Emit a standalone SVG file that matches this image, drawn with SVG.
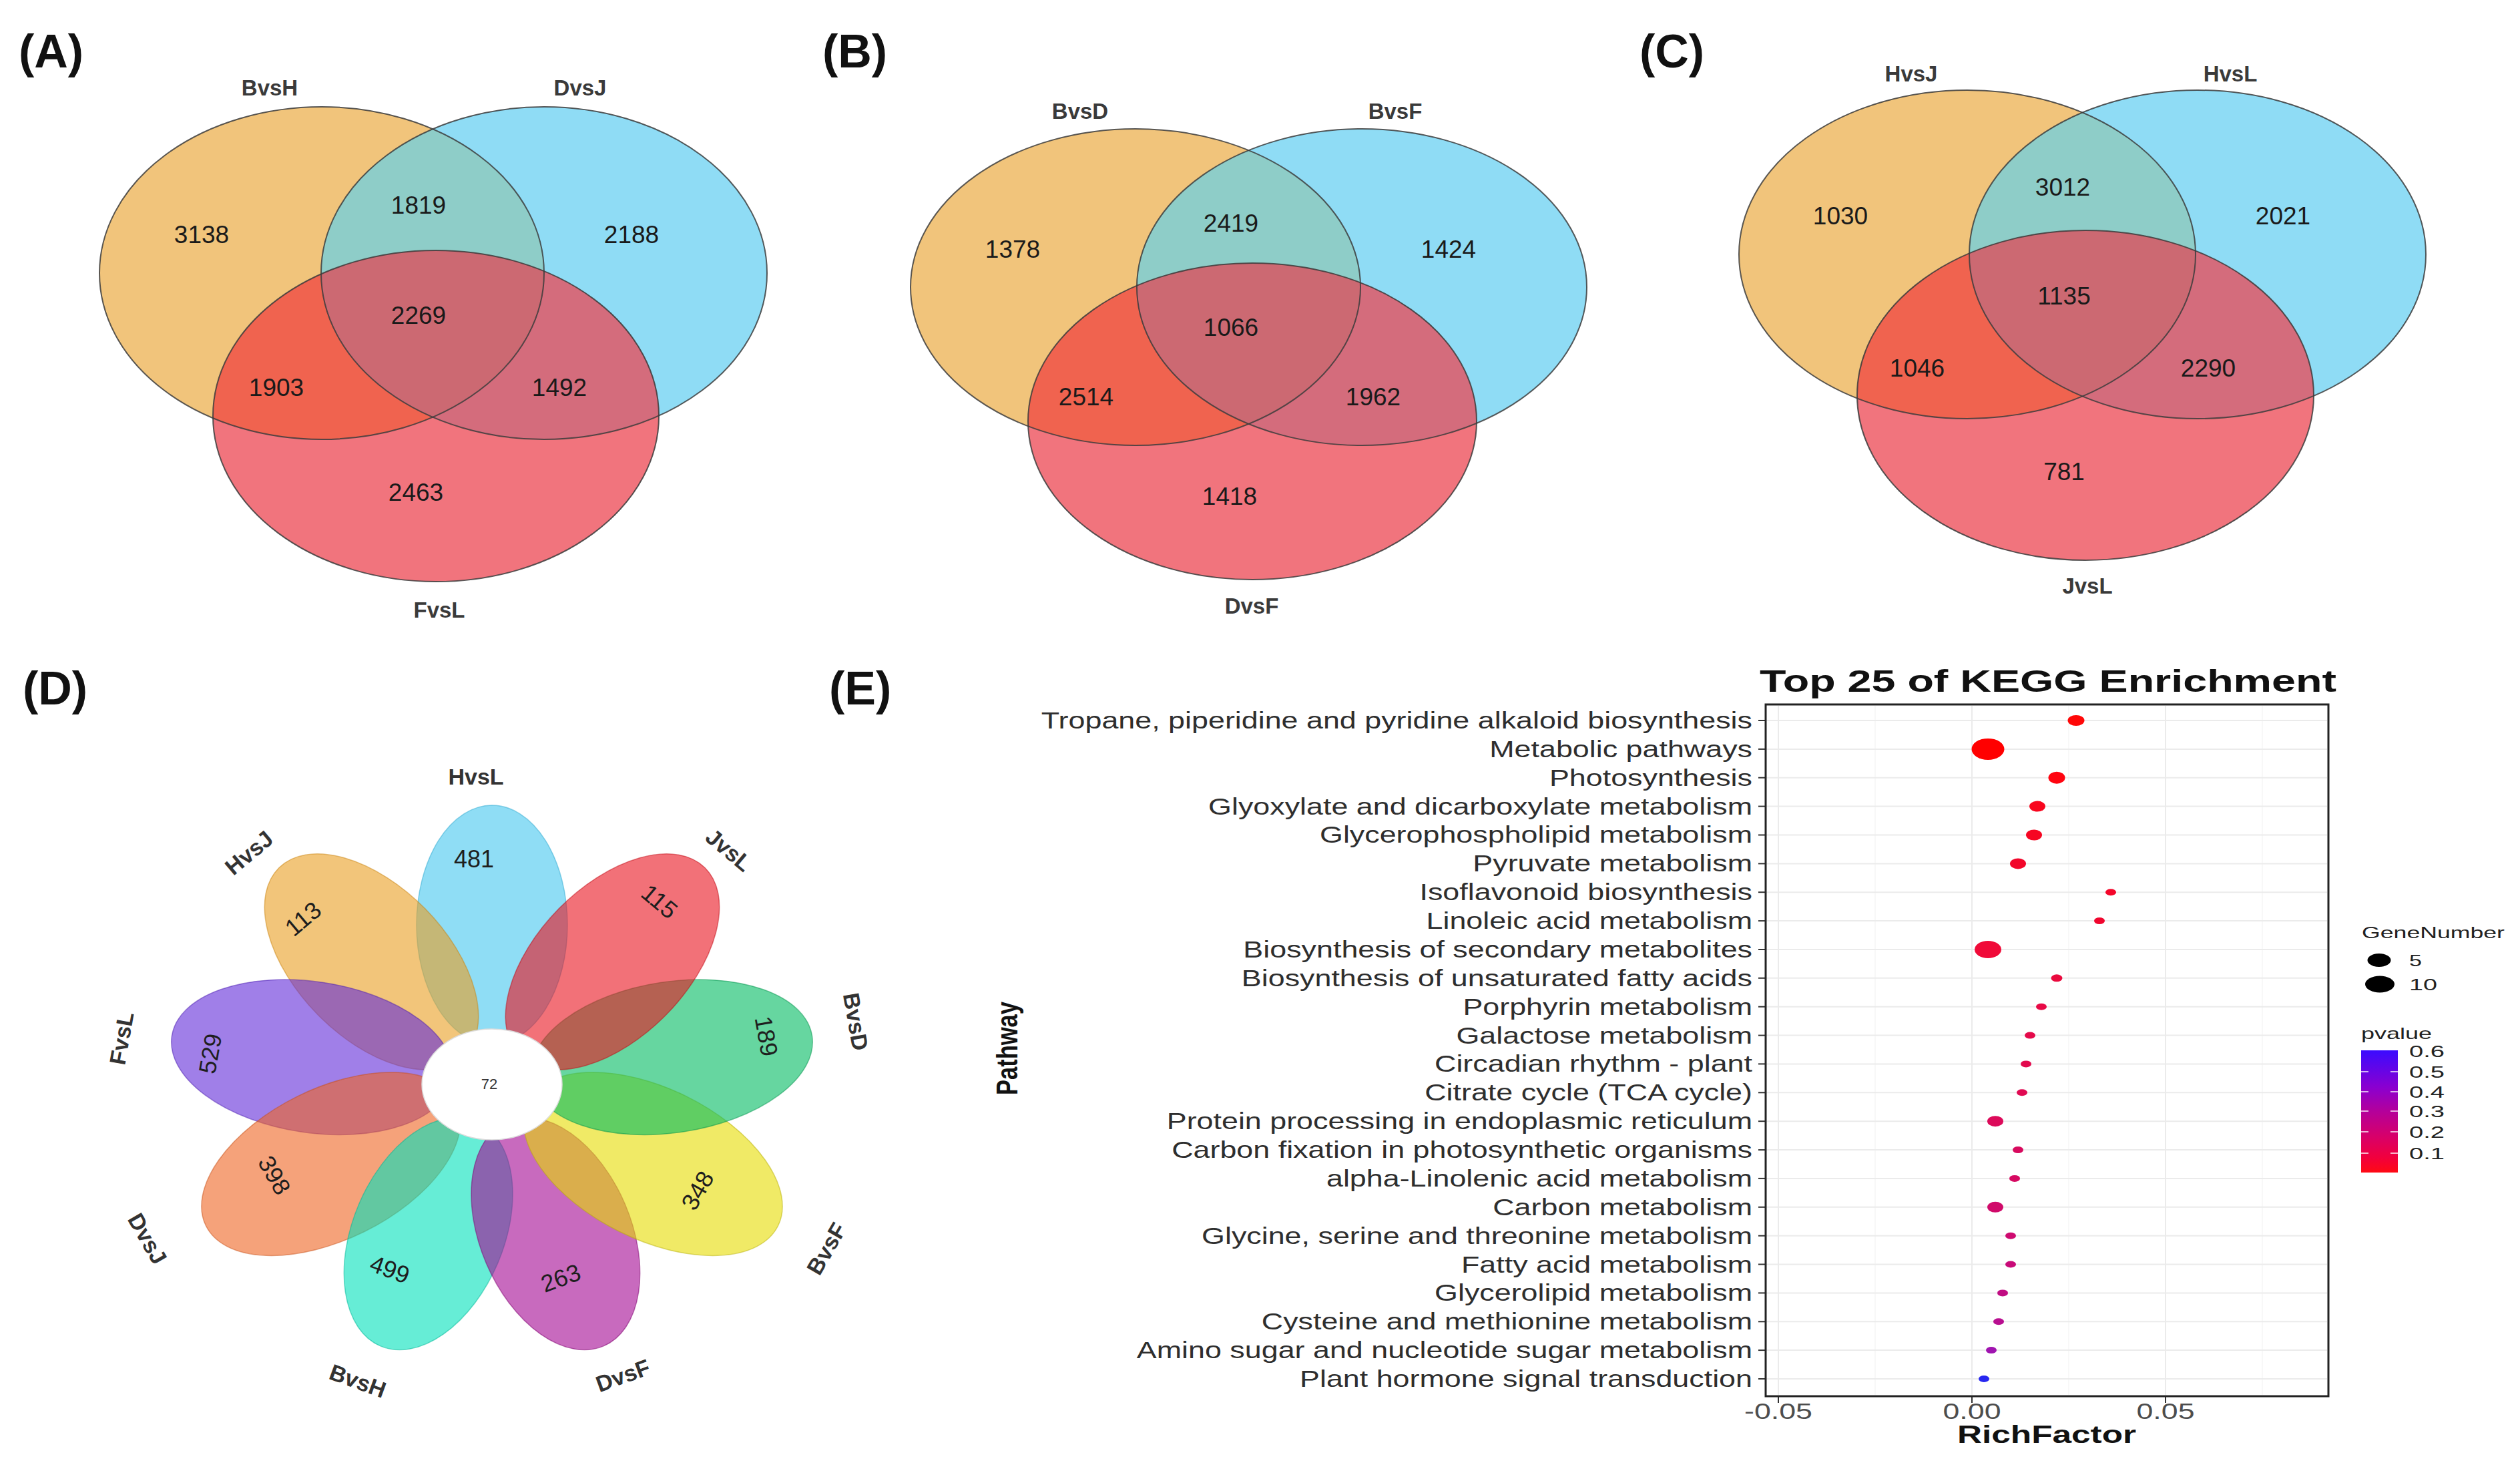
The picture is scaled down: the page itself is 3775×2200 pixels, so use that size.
<svg xmlns="http://www.w3.org/2000/svg" width="3775" height="2200" viewBox="0 0 3775 2200">
<style>
text{font-family:"Liberation Sans",Arial,Helvetica,sans-serif}
.pl{font-size:70px;font-weight:bold;fill:#111}
.vn{font-size:37px;fill:#1a1a1a;text-anchor:middle}
.vl{font-size:33px;font-weight:bold;fill:#3a3a3a;text-anchor:middle}
.O{fill:#F1C47B}.B{fill:#8FDCF5}.R{fill:#F1747D}
.OB{fill:#8ECDC8}.OR{fill:#F0634F}.BR{fill:#D46C7C}.OBR{fill:#CC6972}
.vo{fill:none;stroke:#3c3c3c;stroke-width:2;stroke-opacity:.85}
.pt{fill-opacity:.6;stroke-opacity:.5;stroke-width:1.5}
.fn{font-size:36px;fill:#1e1e1e;text-anchor:middle;dominant-baseline:central}
.fl{font-size:34px;font-weight:bold;fill:#333;text-anchor:middle;dominant-baseline:central}
.rl{font-size:34.5px;fill:#2e2e2e;text-anchor:end}
.hg{stroke:#EBEBEB;stroke-width:2}
.mg{stroke:#F4F4F4;stroke-width:1.2}
.tk{stroke:#333;stroke-width:2}
.ax{font-size:33px;fill:#4D4D4D;text-anchor:middle}
.lg{font-size:24px;fill:#222}
</style>
<defs>
<clipPath id="aO"><ellipse cx="482" cy="409" rx="333" ry="249"/></clipPath>
<clipPath id="aB"><ellipse cx="815" cy="409" rx="334" ry="249"/></clipPath>
<clipPath id="bO"><ellipse cx="1701" cy="430" rx="337" ry="237"/></clipPath>
<clipPath id="bB"><ellipse cx="2040" cy="430" rx="337" ry="237"/></clipPath>
<clipPath id="cO"><ellipse cx="2947" cy="381" rx="342" ry="246"/></clipPath>
<clipPath id="cB"><ellipse cx="3292" cy="381" rx="342" ry="246"/></clipPath>
<linearGradient id="pg" x1="0" y1="0" x2="0" y2="1">
<stop offset="0" stop-color="#3B0BFF"/>
<stop offset="0.3" stop-color="#8A00D0"/>
<stop offset="0.5" stop-color="#B4009A"/>
<stop offset="0.72" stop-color="#DA0066"/>
<stop offset="0.88" stop-color="#F2003C"/>
<stop offset="1" stop-color="#FF0A14"/>
</linearGradient>
</defs>
<rect width="3775" height="2200" fill="#fff"/>

<!-- Panel A -->
<g id="panel-A">
<text class="pl" x="28" y="101">(A)</text>
<g id="A-sets">
<ellipse class="O" cx="482" cy="409" rx="333" ry="249"/>
<ellipse class="B" cx="815" cy="409" rx="334" ry="249"/>
<ellipse class="R" cx="653" cy="623" rx="334" ry="248"/>
<ellipse class="OB" cx="815" cy="409" rx="334" ry="249" clip-path="url(#aO)"/>
<ellipse class="OR" cx="653" cy="623" rx="334" ry="248" clip-path="url(#aO)"/>
<ellipse class="BR" cx="653" cy="623" rx="334" ry="248" clip-path="url(#aB)"/>
<g clip-path="url(#aO)"><ellipse class="OBR" cx="653" cy="623" rx="334" ry="248" clip-path="url(#aB)"/></g>
<ellipse class="vo" cx="482" cy="409" rx="333" ry="249"/>
<ellipse class="vo" cx="815" cy="409" rx="334" ry="249"/>
<ellipse class="vo" cx="653" cy="623" rx="334" ry="248"/>
</g>
<text class="vl" x="404" y="143">BvsH</text>
<text class="vl" x="869" y="143">DvsJ</text>
<text class="vl" x="658" y="925">FvsL</text>
<text class="vn" x="302" y="364">3138</text>
<text class="vn" x="627" y="320">1819</text>
<text class="vn" x="946" y="364">2188</text>
<text class="vn" x="627" y="485">2269</text>
<text class="vn" x="414" y="593">1903</text>
<text class="vn" x="838" y="593">1492</text>
<text class="vn" x="623" y="750">2463</text>
</g>

<!-- Panel B -->
<g id="panel-B">
<text class="pl" x="1232" y="101">(B)</text>
<g id="B-sets">
<ellipse class="O" cx="1701" cy="430" rx="337" ry="237"/>
<ellipse class="B" cx="2040" cy="430" rx="337" ry="237"/>
<ellipse class="R" cx="1876" cy="631" rx="336" ry="237"/>
<ellipse class="OB" cx="2040" cy="430" rx="337" ry="237" clip-path="url(#bO)"/>
<ellipse class="OR" cx="1876" cy="631" rx="336" ry="237" clip-path="url(#bO)"/>
<ellipse class="BR" cx="1876" cy="631" rx="336" ry="237" clip-path="url(#bB)"/>
<g clip-path="url(#bO)"><ellipse class="OBR" cx="1876" cy="631" rx="336" ry="237" clip-path="url(#bB)"/></g>
<ellipse class="vo" cx="1701" cy="430" rx="337" ry="237"/>
<ellipse class="vo" cx="2040" cy="430" rx="337" ry="237"/>
<ellipse class="vo" cx="1876" cy="631" rx="336" ry="237"/>
</g>
<text class="vl" x="1618" y="178">BvsD</text>
<text class="vl" x="2090" y="178">BvsF</text>
<text class="vl" x="1875" y="919">DvsF</text>
<text class="vn" x="1517" y="386">1378</text>
<text class="vn" x="1844" y="347">2419</text>
<text class="vn" x="2170" y="386">1424</text>
<text class="vn" x="1844" y="503">1066</text>
<text class="vn" x="1627" y="607">2514</text>
<text class="vn" x="2057" y="607">1962</text>
<text class="vn" x="1842" y="756">1418</text>
</g>

<!-- Panel C -->
<g id="panel-C">
<text class="pl" x="2456" y="101">(C)</text>
<g id="C-sets">
<ellipse class="O" cx="2947" cy="381" rx="342" ry="246"/>
<ellipse class="B" cx="3292" cy="381" rx="342" ry="246"/>
<ellipse class="R" cx="3124" cy="592" rx="342" ry="247"/>
<ellipse class="OB" cx="3292" cy="381" rx="342" ry="246" clip-path="url(#cO)"/>
<ellipse class="OR" cx="3124" cy="592" rx="342" ry="247" clip-path="url(#cO)"/>
<ellipse class="BR" cx="3124" cy="592" rx="342" ry="247" clip-path="url(#cB)"/>
<g clip-path="url(#cO)"><ellipse class="OBR" cx="3124" cy="592" rx="342" ry="247" clip-path="url(#cB)"/></g>
<ellipse class="vo" cx="2947" cy="381" rx="342" ry="246"/>
<ellipse class="vo" cx="3292" cy="381" rx="342" ry="246"/>
<ellipse class="vo" cx="3124" cy="592" rx="342" ry="247"/>
</g>
<text class="vl" x="2863" y="122">HvsJ</text>
<text class="vl" x="3341" y="122">HvsL</text>
<text class="vl" x="3127" y="889">JvsL</text>
<text class="vn" x="2757" y="336">1030</text>
<text class="vn" x="3090" y="293">3012</text>
<text class="vn" x="3420" y="336">2021</text>
<text class="vn" x="3092" y="456">1135</text>
<text class="vn" x="2872" y="564">1046</text>
<text class="vn" x="3308" y="564">2290</text>
<text class="vn" x="3092" y="719">781</text>
</g>

<!-- Panel D: flower -->
<g id="panel-D">
<text class="pl" x="34" y="1055">(D)</text>
<g id="petals" transform="translate(737 1624)">
<ellipse id="petal-HvsL" class="pt" cx="239" cy="0" rx="179" ry="113" transform="rotate(-90)" fill="#44C6EE" stroke="#2aa8d0"/>
<ellipse id="petal-HvsJ" class="pt" cx="257.5" cy="0" rx="197.5" ry="113" transform="rotate(-134.5)" fill="#E99E21" stroke="#c98410"/>
<ellipse id="petal-FvsL" class="pt" cx="272.5" cy="0" rx="212.5" ry="113" transform="rotate(-171.4)" fill="#612AD9" stroke="#4a1cb0"/>
<ellipse id="petal-DvsJ" class="pt" cx="269" cy="0" rx="209" ry="113" transform="rotate(-206.3)" fill="#EE6421" stroke="#c84e14"/>
<ellipse id="petal-BvsH" class="pt" cx="243" cy="0" rx="183" ry="113" transform="rotate(-246.9)" fill="#00E1BB" stroke="#00b898"/>
<ellipse id="petal-DvsF" class="pt" cx="243" cy="0" rx="183" ry="113" transform="rotate(-293.1)" fill="#A30793" stroke="#800070"/>
<ellipse id="petal-BvsF" class="pt" cx="269" cy="0" rx="209" ry="113" transform="rotate(-333.7)" fill="#E6DC00" stroke="#b8b000"/>
<ellipse id="petal-BvsD" class="pt" cx="272.5" cy="0" rx="212.5" ry="113" transform="rotate(-8.6)" fill="#00BB61" stroke="#00944c"/>
<ellipse id="petal-JvsL" class="pt" cx="257.5" cy="0" rx="197.5" ry="113" transform="rotate(-45.5)" fill="#E9121E" stroke="#c00a14"/>
</g>
<g id="core">
<ellipse cx="737" cy="1624" rx="105" ry="83" fill="#fff" stroke="#dcdcdc" stroke-width="1.5"/>
<text x="733" y="1623" style="font-size:22px;fill:#333;text-anchor:middle;dominant-baseline:central">72</text>
</g>
<g id="petal-values">
<text class="fn" x="710" y="1286">481</text>
<text class="fn" x="454" y="1376" transform="rotate(-40 454 1376)">113</text>
<text class="fn" x="988" y="1350" transform="rotate(40 988 1350)">115</text>
<text class="fn" x="1148" y="1552" transform="rotate(80 1148 1552)">189</text>
<text class="fn" x="1045" y="1783" transform="rotate(-60 1045 1783)">348</text>
<text class="fn" x="840" y="1914" transform="rotate(-20 840 1914)">263</text>
<text class="fn" x="584" y="1901" transform="rotate(20 584 1901)">499</text>
<text class="fn" x="411" y="1760" transform="rotate(60 411 1760)">398</text>
<text class="fn" x="315" y="1578" transform="rotate(-80 315 1578)">529</text>
</g>
<g id="petal-labels">
<text class="fl" x="713" y="1163">HvsL</text>
<text class="fl" x="1092" y="1273" transform="rotate(40 1092 1273)">JvsL</text>
<text class="fl" x="1282" y="1530" transform="rotate(80 1282 1530)">BvsD</text>
<text class="fl" x="1238" y="1870" transform="rotate(-60 1238 1870)">BvsF</text>
<text class="fl" x="933" y="2060" transform="rotate(-20 933 2060)">DvsF</text>
<text class="fl" x="536" y="2068" transform="rotate(20 536 2068)">BvsH</text>
<text class="fl" x="221" y="1855" transform="rotate(60 221 1855)">DvsJ</text>
<text class="fl" x="182" y="1555" transform="rotate(-80 182 1555)">FvsL</text>
<text class="fl" x="373" y="1277" transform="rotate(-40 373 1277)">HvsJ</text>
</g>
</g>

<!-- Panel E -->
<g id="panel-E">
<text class="pl" x="1242" y="1055">(E)</text>
<text x="2636" y="1036" textLength="864" lengthAdjust="spacingAndGlyphs" style="font-size:47px;font-weight:bold;fill:#111">Top 25 of KEGG Enrichment</text>
<g id="grid">
<line class="mg" x1="2809" y1="1057" x2="2809" y2="2089"/>
<line class="mg" x1="3099" y1="1057" x2="3099" y2="2089"/>
<line class="mg" x1="3389" y1="1057" x2="3389" y2="2089"/>
<line class="hg" x1="2664" y1="1057" x2="2664" y2="2089"/>
<line class="hg" x1="2954" y1="1057" x2="2954" y2="2089"/>
<line class="hg" x1="3244" y1="1057" x2="3244" y2="2089"/>
<g class="hg">
<line x1="2646" y1="1079" x2="3486" y2="1079"/><line x1="2646" y1="1121.9" x2="3486" y2="1121.9"/><line x1="2646" y1="1164.7" x2="3486" y2="1164.7"/><line x1="2646" y1="1207.6" x2="3486" y2="1207.6"/><line x1="2646" y1="1250.5" x2="3486" y2="1250.5"/><line x1="2646" y1="1293.4" x2="3486" y2="1293.4"/><line x1="2646" y1="1336.2" x2="3486" y2="1336.2"/><line x1="2646" y1="1379.1" x2="3486" y2="1379.1"/><line x1="2646" y1="1422" x2="3486" y2="1422"/><line x1="2646" y1="1464.8" x2="3486" y2="1464.8"/><line x1="2646" y1="1507.7" x2="3486" y2="1507.7"/><line x1="2646" y1="1550.6" x2="3486" y2="1550.6"/><line x1="2646" y1="1593.4" x2="3486" y2="1593.4"/><line x1="2646" y1="1636.3" x2="3486" y2="1636.3"/><line x1="2646" y1="1679.2" x2="3486" y2="1679.2"/><line x1="2646" y1="1722.1" x2="3486" y2="1722.1"/><line x1="2646" y1="1764.9" x2="3486" y2="1764.9"/><line x1="2646" y1="1807.8" x2="3486" y2="1807.8"/><line x1="2646" y1="1850.7" x2="3486" y2="1850.7"/><line x1="2646" y1="1893.5" x2="3486" y2="1893.5"/><line x1="2646" y1="1936.4" x2="3486" y2="1936.4"/><line x1="2646" y1="1979.3" x2="3486" y2="1979.3"/><line x1="2646" y1="2022.1" x2="3486" y2="2022.1"/><line x1="2646" y1="2065" x2="3486" y2="2065"/>
</g>
</g>
<g id="ticks" class="tk">
<line x1="2634" y1="1079" x2="2645" y2="1079"/><line x1="2634" y1="1121.9" x2="2645" y2="1121.9"/><line x1="2634" y1="1164.7" x2="2645" y2="1164.7"/><line x1="2634" y1="1207.6" x2="2645" y2="1207.6"/><line x1="2634" y1="1250.5" x2="2645" y2="1250.5"/><line x1="2634" y1="1293.4" x2="2645" y2="1293.4"/><line x1="2634" y1="1336.2" x2="2645" y2="1336.2"/><line x1="2634" y1="1379.1" x2="2645" y2="1379.1"/><line x1="2634" y1="1422" x2="2645" y2="1422"/><line x1="2634" y1="1464.8" x2="2645" y2="1464.8"/><line x1="2634" y1="1507.7" x2="2645" y2="1507.7"/><line x1="2634" y1="1550.6" x2="2645" y2="1550.6"/><line x1="2634" y1="1593.4" x2="2645" y2="1593.4"/><line x1="2634" y1="1636.3" x2="2645" y2="1636.3"/><line x1="2634" y1="1679.2" x2="2645" y2="1679.2"/><line x1="2634" y1="1722.1" x2="2645" y2="1722.1"/><line x1="2634" y1="1764.9" x2="2645" y2="1764.9"/><line x1="2634" y1="1807.8" x2="2645" y2="1807.8"/><line x1="2634" y1="1850.7" x2="2645" y2="1850.7"/><line x1="2634" y1="1893.5" x2="2645" y2="1893.5"/><line x1="2634" y1="1936.4" x2="2645" y2="1936.4"/><line x1="2634" y1="1979.3" x2="2645" y2="1979.3"/><line x1="2634" y1="2022.1" x2="2645" y2="2022.1"/><line x1="2634" y1="2065" x2="2645" y2="2065"/>
<line x1="2664" y1="2091" x2="2664" y2="2101"/><line x1="2954" y1="2091" x2="2954" y2="2101"/><line x1="3244" y1="2091" x2="3244" y2="2101"/>
</g>
<g id="dots">
<ellipse cx="3110" cy="1079" rx="12.5" ry="8" fill="#FF0808"/>
<ellipse cx="2978" cy="1121.9" rx="24.5" ry="16" fill="#FF0000"/>
<ellipse cx="3081" cy="1164.7" rx="12.5" ry="9" fill="#FF0410"/>
<ellipse cx="3052" cy="1207.6" rx="12" ry="8" fill="#F8061E"/>
<ellipse cx="3047" cy="1250.5" rx="12" ry="8" fill="#F60622"/>
<ellipse cx="3023" cy="1293.4" rx="12" ry="8" fill="#F2062A"/>
<ellipse cx="3162" cy="1336.2" rx="8" ry="5" fill="#F4062A"/>
<ellipse cx="3145" cy="1379.1" rx="8" ry="5" fill="#F0062E"/>
<ellipse cx="2978" cy="1422" rx="20" ry="13" fill="#F00A38"/>
<ellipse cx="3081" cy="1464.8" rx="8.5" ry="5.5" fill="#EA0A3E"/>
<ellipse cx="3058" cy="1507.7" rx="8" ry="5" fill="#E80A46"/>
<ellipse cx="3041" cy="1550.6" rx="8" ry="5" fill="#E40A4A"/>
<ellipse cx="3035" cy="1593.4" rx="8" ry="5" fill="#E20A4E"/>
<ellipse cx="3029" cy="1636.3" rx="8" ry="5" fill="#E00A52"/>
<ellipse cx="2989" cy="1679.2" rx="12" ry="8" fill="#DC0A5A"/>
<ellipse cx="3023" cy="1722.1" rx="8" ry="5" fill="#D80A5E"/>
<ellipse cx="3018" cy="1764.9" rx="8" ry="5" fill="#D60A62"/>
<ellipse cx="2989" cy="1807.8" rx="12" ry="8" fill="#D00A6A"/>
<ellipse cx="3012" cy="1850.7" rx="8" ry="5" fill="#CE0A70"/>
<ellipse cx="3012" cy="1893.5" rx="8" ry="5" fill="#C80A78"/>
<ellipse cx="3000" cy="1936.4" rx="8" ry="5" fill="#C00C82"/>
<ellipse cx="2994" cy="1979.3" rx="8" ry="5" fill="#B80E90"/>
<ellipse cx="2983" cy="2022.1" rx="8" ry="5" fill="#A014B0"/>
<ellipse cx="2972" cy="2065" rx="8" ry="5" fill="#2828F0"/>
</g>
<rect x="2645" y="1055" width="843" height="1036" fill="none" stroke="#222" stroke-width="3"/>
<g id="row-labels" transform="matrix(1.3 0 0 1 -787.5 0)">
<text class="rl" x="2625" y="1091">Tropane, piperidine and pyridine alkaloid biosynthesis</text>
<text class="rl" x="2625" y="1134">Metabolic pathways</text>
<text class="rl" x="2625" y="1177">Photosynthesis</text>
<text class="rl" x="2625" y="1220">Glyoxylate and dicarboxylate metabolism</text>
<text class="rl" x="2625" y="1262">Glycerophospholipid metabolism</text>
<text class="rl" x="2625" y="1305">Pyruvate metabolism</text>
<text class="rl" x="2625" y="1348">Isoflavonoid biosynthesis</text>
<text class="rl" x="2625" y="1391">Linoleic acid metabolism</text>
<text class="rl" x="2625" y="1434">Biosynthesis of secondary metabolites</text>
<text class="rl" x="2625" y="1477">Biosynthesis of unsaturated fatty acids</text>
<text class="rl" x="2625" y="1520">Porphyrin metabolism</text>
<text class="rl" x="2625" y="1563">Galactose metabolism</text>
<text class="rl" x="2625" y="1605">Circadian rhythm - plant</text>
<text class="rl" x="2625" y="1648">Citrate cycle (TCA cycle)</text>
<text class="rl" x="2625" y="1691">Protein processing in endoplasmic reticulum</text>
<text class="rl" x="2625" y="1734">Carbon fixation in photosynthetic organisms</text>
<text class="rl" x="2625" y="1777">alpha-Linolenic acid metabolism</text>
<text class="rl" x="2625" y="1820">Carbon metabolism</text>
<text class="rl" x="2625" y="1863">Glycine, serine and threonine metabolism</text>
<text class="rl" x="2625" y="1906">Fatty acid metabolism</text>
<text class="rl" x="2625" y="1948">Glycerolipid metabolism</text>
<text class="rl" x="2625" y="1991">Cysteine and methionine metabolism</text>
<text class="rl" x="2625" y="2034">Amino sugar and nucleotide sugar metabolism</text>
<text class="rl" x="2625" y="2077">Plant hormone signal transduction</text>
</g>
<text class="ax" x="2664" y="2125" textLength="102" lengthAdjust="spacingAndGlyphs">-0.05</text>
<text class="ax" x="2954" y="2125" textLength="87" lengthAdjust="spacingAndGlyphs">0.00</text>
<text class="ax" x="3244" y="2125" textLength="87" lengthAdjust="spacingAndGlyphs">0.05</text>
<text x="3066" y="2161" text-anchor="middle" textLength="268" lengthAdjust="spacingAndGlyphs" style="font-size:36px;font-weight:bold;fill:#111">RichFactor</text>
<text transform="translate(1524 1570) scale(1.3 1) rotate(-90)" text-anchor="middle" style="font-size:34.5px;font-weight:bold;fill:#111">Pathway</text>
<g id="legend">
<text class="lg" x="3538" y="1405" textLength="214" lengthAdjust="spacingAndGlyphs">GeneNumber</text>
<ellipse cx="3564" cy="1438" rx="17.5" ry="10" fill="#000"/>
<ellipse cx="3565" cy="1474" rx="22" ry="12.5" fill="#000"/>
<text class="lg" x="3609" y="1447" textLength="19" lengthAdjust="spacingAndGlyphs">5</text>
<text class="lg" x="3609" y="1483" textLength="42" lengthAdjust="spacingAndGlyphs">10</text>
<text class="lg" x="3537" y="1556" textLength="106" lengthAdjust="spacingAndGlyphs">pvalue</text>
<rect x="3537" y="1573" width="55" height="183" fill="url(#pg)"/>
<g stroke="#fff" stroke-width="2" stroke-opacity="0.7">
<line x1="3537" y1="1605" x2="3548" y2="1605"/><line x1="3581" y1="1605" x2="3592" y2="1605"/>
<line x1="3537" y1="1635" x2="3548" y2="1635"/><line x1="3581" y1="1635" x2="3592" y2="1635"/>
<line x1="3537" y1="1664" x2="3548" y2="1664"/><line x1="3581" y1="1664" x2="3592" y2="1664"/>
<line x1="3537" y1="1695" x2="3548" y2="1695"/><line x1="3581" y1="1695" x2="3592" y2="1695"/>
<line x1="3537" y1="1727" x2="3548" y2="1727"/><line x1="3581" y1="1727" x2="3592" y2="1727"/>
</g>
<text class="lg" x="3609" y="1583" textLength="53" lengthAdjust="spacingAndGlyphs">0.6</text>
<text class="lg" x="3609" y="1614" textLength="53" lengthAdjust="spacingAndGlyphs">0.5</text>
<text class="lg" x="3609" y="1644" textLength="53" lengthAdjust="spacingAndGlyphs">0.4</text>
<text class="lg" x="3609" y="1673" textLength="53" lengthAdjust="spacingAndGlyphs">0.3</text>
<text class="lg" x="3609" y="1704" textLength="53" lengthAdjust="spacingAndGlyphs">0.2</text>
<text class="lg" x="3609" y="1736" textLength="53" lengthAdjust="spacingAndGlyphs">0.1</text>
</g>
</g>
</svg>
